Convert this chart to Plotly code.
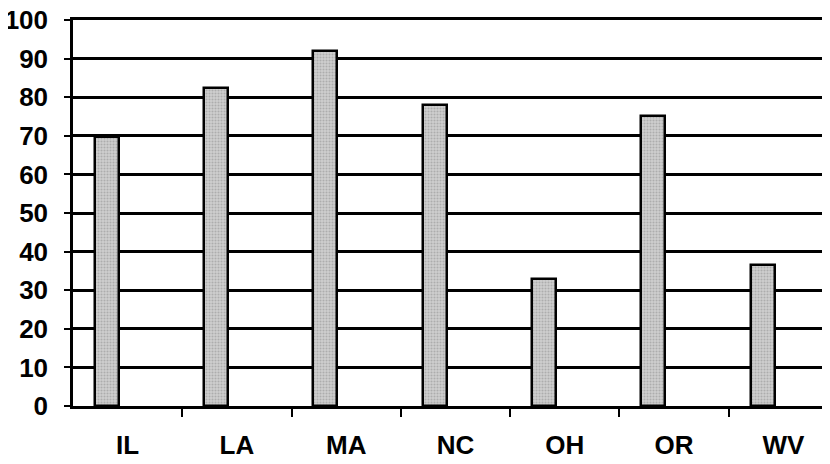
import plotly.graph_objects as go

states = ["IL", "LA", "MA", "NC", "OH", "OR", "WV"]
values = [69.8, 82.4, 92.0, 78.0, 32.9, 75.1, 36.5]
y_ticks = [0, 10, 20, 30, 40, 50, 60, 70, 80, 90, 100]

xpos = list(range(len(states)))
boundaries = [i + 0.5 for i in range(len(states) - 1)]

fig = go.Figure()
fig.add_trace(go.Bar(
    x=xpos, y=values,
    offset=-0.30, width=0.22,
    marker=dict(color="#b9b9b9", line=dict(color="black", width=2.5),
                pattern=dict(shape=".", fgcolor="#8a8a8a", bgcolor="#d0d0d0", size=3, solidity=0.4)),
    showlegend=False,
))

font = dict(family="Liberation Sans, Arial, sans-serif", size=26, color="black")

fig.update_layout(
    width=822, height=456,
    margin=dict(l=65, r=0, t=12, b=58),
    paper_bgcolor="white", plot_bgcolor="white",
    bargap=0,
    xaxis=dict(
        range=[-0.5, 6.427], automargin=False,
        tickvals=xpos, ticktext=[f"<b>{s}</b>" for s in states],
        ticks="", tickfont=font, ticklabelstandoff=14,
        showgrid=False, zeroline=False,
        showline=True, mirror=True, linecolor="black", linewidth=2.5,
        minor=dict(tickvals=boundaries, ticks="outside", ticklen=8, tickwidth=2, tickcolor="black", showgrid=False),
    ),
    yaxis=dict(
        range=[0, 100], automargin=False,
        tickvals=y_ticks, ticktext=[f"<b>{v}</b>" for v in y_ticks],
        ticks="outside", ticklen=6, tickwidth=2, tickcolor="black",
        tickfont=font, ticklabelstandoff=11, ticklabeloverflow="allow",
        showgrid=True, gridcolor="black", gridwidth=2.5,
        zeroline=False,
        showline=True, linecolor="black", linewidth=2.5,
    ),
)

fig.write_html("out.html")
